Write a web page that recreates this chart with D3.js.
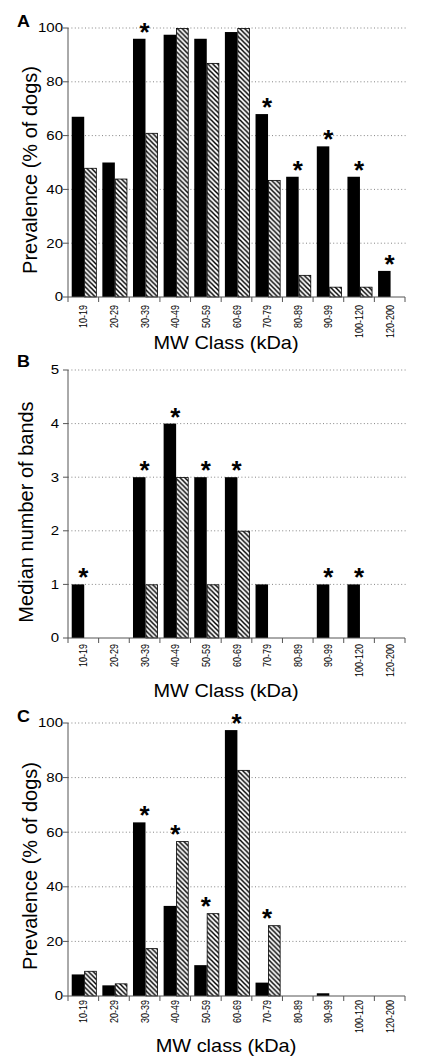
<!DOCTYPE html>
<html><head><meta charset="utf-8">
<script src="https://cdn.jsdelivr.net/npm/d3@7"></script>
<style>body{margin:0;background:#fff}svg{display:block}</style></head>
<body><svg id="c" width="433" height="1064"></svg>
<script>
const categories = ["10-19","20-29","30-39","40-49","50-59","60-69","70-79","80-89","90-99","100-120","120-200"];
const prevalenceA_black   = [67, 50, 96, 97.5, 96, 98.5, 68, 44.7, 56, 44.7, 9.7];
const prevalenceA_hatched = [48, 44, 61, 100, 87, 100, 43.5, 8.2, 3.8, 3.8, 0];
const starsA = ["30-39","70-79","80-89","90-99","100-120","120-200"];
const bandsB_black   = [1, 0, 3, 4, 3, 3, 1, 0, 1, 1, 0];
const bandsB_hatched = [0, 0, 1, 3, 1, 2, 0, 0, 0, 0, 0];
const starsB = ["10-19","30-39","40-49","50-59","60-69","90-99","100-120"];
const prevalenceC_black   = [7.9, 3.9, 63.6, 33, 11.3, 97.4, 4.9, 0, 1, 0, 0];
const prevalenceC_hatched = [9.2, 4.6, 17.5, 56.7, 30.3, 82.8, 25.9, 0, 0, 0, 0];
const starsC = ["30-39","40-49","50-59","60-69","70-79"];
const ticksPct = [0, 20, 40, 60, 80, 100];
const ticksBands = [0, 1, 2, 3, 4, 5];

const svg = d3.select("#c");
const defs = svg.append("defs");
const T = 4.8;
const pat = defs.append("pattern").attr("id","hatch").attr("patternUnits","userSpaceOnUse")
  .attr("width",T).attr("height",T);
pat.append("rect").attr("width",T).attr("height",T).attr("fill","#fff");
pat.append("path").attr("d",`M-1,-1 L${T+1},${T+1} M-1,${T-1} L1,${T+1} M${T-1},-1 L${T+1},1`)
  .attr("stroke","#000").attr("stroke-width",1.5);

const panels = [
  {letter:"A", black:prevalenceA_black, hatched:prevalenceA_hatched, stars:starsA, max:100, ticks:ticksPct,
   yTop:28, yBot:297, yTitle:"Prevalence (% of dogs)", yTitleX:37, yTitleY:170, lblEnd:63,
   xTitle:"MW Class (kDa)", xTitleY:349, xLblOff:8, letterY:27},
  {letter:"B", black:bandsB_black, hatched:bandsB_hatched, stars:starsB, max:5, ticks:ticksBands,
   yTop:370, yBot:638, yTitle:"Median number of bands", yTitleX:33, yTitleY:512, lblEnd:59,
   xTitle:"MW Class (kDa)", xTitleY:697, xLblOff:6, letterY:367},
  {letter:"C", black:prevalenceC_black, hatched:prevalenceC_hatched, stars:starsC, max:100, ticks:ticksPct,
   yTop:723, yBot:996, yTitle:"Prevalence (% of dogs)", yTitleX:37, yTitleY:866, lblEnd:63,
   xTitle:"MW class (kDa)", xTitleY:1052, xLblOff:4, letterY:722}
];

const xL = 68, xR = 405;
const xc = d3.scaleBand().domain(categories).range([xL, xR]).padding(0);
const xi = d3.scaleBand().domain(["black","hatched"]).range([0, xc.bandwidth()])
  .paddingInner(0).paddingOuter(0.225).align(0.66);

panels.forEach(p => {
  const g = svg.append("g");
  const y = d3.scaleLinear().domain([0, p.max]).range([p.yBot, p.yTop]);
  g.selectAll(".grid").data(p.ticks.filter(t => t > 0)).join("line")
    .attr("x1", xL).attr("x2", xR + 2).attr("y1", d => y(d)).attr("y2", d => y(d))
    .attr("stroke","#777").attr("stroke-width",0.9).attr("stroke-dasharray","1,2.4");
  const rows = categories.map((c,i) => ({c, b:p.black[i], h:p.hatched[i]}));
  g.selectAll(".bb").data(rows.filter(d => d.b > 0)).join("rect")
    .attr("x", d => xc(d.c) + xi("black")).attr("width", xi.bandwidth())
    .attr("y", d => y(d.b)).attr("height", d => y(0) - y(d.b)).attr("fill","#000");
  g.selectAll(".hb").data(rows.filter(d => d.h > 0)).join("rect")
    .attr("x", d => xc(d.c) + xi("hatched") + 0.4).attr("width", xi.bandwidth() - 0.8)
    .attr("y", d => y(d.h) + 0.4).attr("height", d => y(0) - y(d.h) - 0.4)
    .attr("fill","url(#hatch)").attr("stroke","#000").attr("stroke-width",0.8);
  g.append("line").attr("x1",xL).attr("x2",xL).attr("y1",y(0)).attr("y2",y(p.max))
    .attr("stroke","#555").attr("stroke-width",1);
  g.selectAll(".yt").data(p.ticks).join("line")
    .attr("x1",xL-5).attr("x2",xL).attr("y1",d=>y(d)).attr("y2",d=>y(d))
    .attr("stroke","#555").attr("stroke-width",1);
  g.selectAll(".yl").data(p.ticks).join("text")
    .attr("transform", d => `translate(${p.lblEnd},${y(d)}) scale(1.25,1)`)
    .attr("text-anchor","end").attr("dy","0.36em")
    .attr("font-family","Liberation Sans, Arial, sans-serif").attr("font-size",12)
    .text(d => d);
  g.append("line").attr("x1",xL).attr("x2",xR).attr("y1",y(0)).attr("y2",y(0))
    .attr("stroke","#555").attr("stroke-width",1);
  const bounds = categories.map(c => xc(c)).concat([xR]);
  g.selectAll(".xt").data(bounds).join("line")
    .attr("x1",d=>d).attr("x2",d=>d).attr("y1",y(0)).attr("y2",y(0)+5)
    .attr("stroke","#555").attr("stroke-width",1);
  g.selectAll(".xl").data(categories).join("text")
    .attr("transform", d => `translate(${xc(d)+xc.bandwidth()/2},${y(0)+p.xLblOff}) scale(1.25,1) rotate(-90)`)
    .attr("text-anchor","end").attr("dy","0.36em")
    .attr("font-family","Liberation Sans, Arial, sans-serif").attr("font-size",9)
    .text(d => d);
  g.selectAll(".st").data(rows.filter(d => p.stars.includes(d.c))).join("text")
    .attr("x", d => xc(d.c) + xc.bandwidth()/2).attr("y", d => y(Math.max(d.b,d.h)) + 2)
    .attr("text-anchor","middle").attr("font-family","Liberation Sans, Arial, sans-serif")
    .attr("font-weight","bold").attr("font-size",26).text("*");
  g.append("text").attr("transform",`translate(${p.yTitleX},${p.yTitleY}) rotate(-90)`)
    .attr("text-anchor","middle").attr("font-family","Liberation Sans, Arial, sans-serif")
    .attr("font-size",20).text(p.yTitle);
  g.append("text").attr("transform",`translate(226,${p.xTitleY}) scale(1.05,1)`)
    .attr("text-anchor","middle").attr("font-family","Liberation Sans, Arial, sans-serif")
    .attr("font-size",19).text(p.xTitle);
  g.append("text").attr("transform",`translate(17,${p.letterY}) scale(1.12,1)`)
    .attr("font-family","Liberation Sans, Arial, sans-serif").attr("font-weight","bold")
    .attr("font-size",16).text(p.letter);
});
</script></body></html>
